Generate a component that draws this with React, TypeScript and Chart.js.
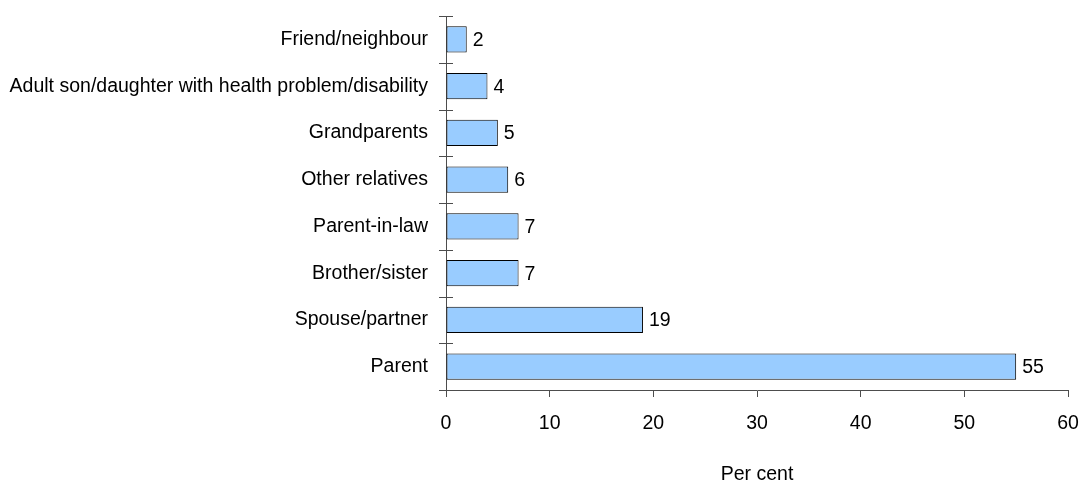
import React, { useEffect, useRef } from "react";
import { Chart, registerables } from "chart.js";

Chart.register(...registerables);

const categories = [
  "Friend/neighbour",
  "Adult son/daughter with health problem/disability",
  "Grandparents",
  "Other relatives",
  "Parent-in-law",
  "Brother/sister",
  "Spouse/partner",
  "Parent",
];
const values = [2, 4, 5, 6, 7, 7, 19, 55];
const xTicks = [0, 10, 20, 30, 40, 50, 60];
const axisTitle = "Per cent";

const FONT = "'Liberation Sans', Arial, sans-serif";
const FSIZE = 19.5;
const AXIS_COLOR = "#4d4d4d";

const decorPlugin = {
  id: "decor",
  afterDatasetsDraw(chart: any) {
    const { ctx } = chart;
    const y = chart.scales.y;
    const x = chart.scales.x;
    ctx.save();
    ctx.strokeStyle = AXIS_COLOR;
    ctx.lineWidth = 1;
    const n = categories.length;
    const step = (y.bottom - y.top) / n;
    for (let i = 0; i <= n; i++) {
      const py = Math.round(y.top + i * step) + 0.5;
      ctx.beginPath();
      ctx.moveTo(x.left - 7, py);
      ctx.lineTo(x.left + 7, py);
      ctx.stroke();
    }
    ctx.fillStyle = "#000";
    ctx.font = `${FSIZE}px ${FONT}`;
    ctx.textAlign = "left";
    ctx.textBaseline = "middle";
    const meta = chart.getDatasetMeta(0);
    meta.data.forEach((bar: any, i: number) => {
      ctx.fillText(String(values[i]), bar.x + 6, bar.y + 1);
    });
    ctx.restore();
  },
};

export default function App() {
  const ref = useRef<HTMLCanvasElement>(null);
  useEffect(() => {
    if (!ref.current) return;
    const chart = new Chart(ref.current, {
      type: "bar",
      data: {
        labels: categories,
        datasets: [
          {
            data: values,
            backgroundColor: "#99CCFF",
            borderColor: "#000000",
            borderWidth: 1,
            borderSkipped: false,
            barPercentage: 0.56,
            categoryPercentage: 1,
          },
        ],
      },
      options: {
        indexAxis: "y",
        animation: false,
        responsive: false,
        maintainAspectRatio: false,
        layout: { padding: { top: 16, right: 12, left: 0, bottom: 0 } },
        plugins: {
          legend: { display: false },
          tooltip: { enabled: false },
          title: { display: false },
        },
        scales: {
          x: {
            type: "linear",
            min: 0,
            max: 60,
            afterBuildTicks: (scale: any) => {
              scale.ticks = xTicks.map((v) => ({ value: v }));
            },
            afterFit: (scale: any) => {
              scale.height = 96;
              scale.paddingLeft = 0;
              scale.paddingRight = 0;
              scale.paddingTop = 0;
              scale.paddingBottom = 0;
            },
            grid: {
              drawOnChartArea: false,
              drawTicks: true,
              tickLength: 7,
              color: AXIS_COLOR,
            },
            border: { display: true, color: AXIS_COLOR, width: 1 },
            ticks: {
              padding: 15,
              color: "#000",
              font: { family: FONT, size: FSIZE },
              maxRotation: 0,
            },
            title: {
              display: true,
              text: axisTitle,
              color: "#000",
              font: { family: FONT, size: FSIZE },
              padding: { top: 0, bottom: 0 },
            },
          },
          y: {
            type: "category",
            afterFit: (scale: any) => {
              scale.width = 446;
              scale.paddingLeft = 0;
              scale.paddingRight = 0;
              scale.paddingTop = 0;
              scale.paddingBottom = 0;
            },
            grid: { display: false, drawTicks: false },
            border: { display: true, color: AXIS_COLOR, width: 1 },
            ticks: {
              padding: 18,
              color: "#000",
              font: { family: FONT, size: FSIZE },
              autoSkip: false,
            },
          },
        },
      },
      plugins: [decorPlugin],
    });
    return () => chart.destroy();
  }, []);
  return (
    <div style={{ position: "fixed", left: 0, top: 0, width: 1080, height: 486, background: "#fff" }}>
      <canvas ref={ref} width={1080} height={486} style={{ width: 1080, height: 486, display: "block" }} />
    </div>
  );
}
